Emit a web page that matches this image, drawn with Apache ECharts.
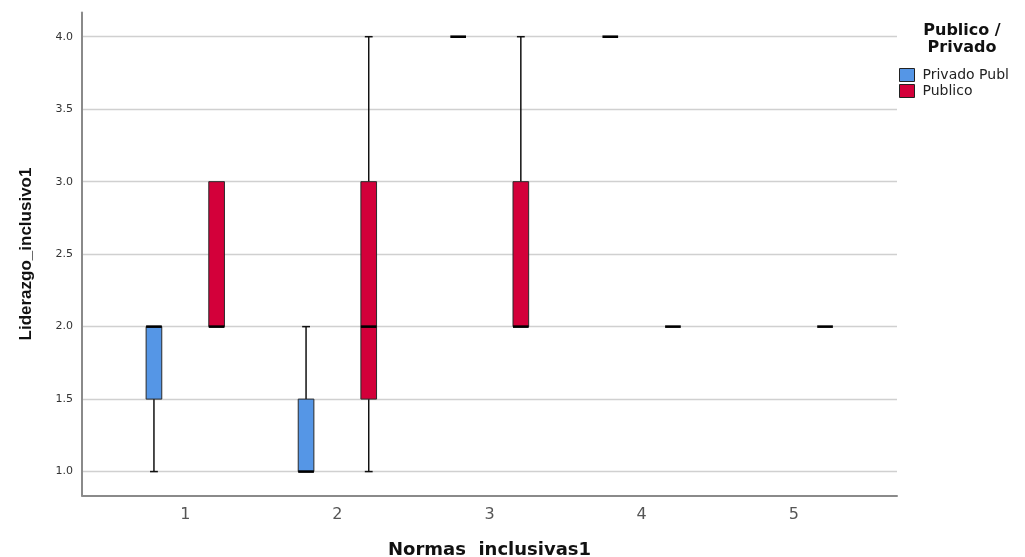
<!DOCTYPE html>
<html>
<head>
<meta charset="utf-8">
<script src="https://cdn.jsdelivr.net/npm/echarts@6/dist/echarts.min.js"></script>
<style>
html,body{margin:0;padding:0;background:#fff;}
#chart{width:1025px;height:557px;}
</style>
</head>
<body>
<div id="chart"></div>
<script>
// ---- data ----
const categories = ['1', '2', '3', '4', '5'];
const yTicks = [1.0, 1.5, 2.0, 2.5, 3.0, 3.5, 4.0];
const seriesNames = ['Privado Publ', 'Publico'];
// [min, Q1, median, Q3, max] per category (null = no data)
const privadoStats = [
  [1, 1.5, 2, 2, 2],
  [1, 1, 1, 1.5, 2],
  [4, 4, 4, 4, 4],
  [4, 4, 4, 4, 4],
  null
];
const publicoStats = [
  [2, 2, 2, 3, 3],
  [1, 1.5, 2, 3, 4],
  [2, 2, 2, 3, 4],
  [2, 2, 2, 2, 2],
  [2, 2, 2, 2, 2]
];

const FONT = '"Liberation Sans", Arial, sans-serif';
const WFONT = '"DejaVu Sans", "Liberation Sans", sans-serif';
const BOX_W = 0.103;
const OFFSET = 0.206;

function buildData(stats) {
  const out = [];
  stats.forEach(function (s, i) {
    if (s) out.push([i + 1].concat(s));
  });
  return out;
}

function makeRender(offset, color) {
  return function (params, api) {
    const xv = api.value(0) + offset;
    const mn = api.value(1), q1 = api.value(2), md = api.value(3), q3 = api.value(4), mx = api.value(5);
    const w = api.size([BOX_W, 0])[0];
    const capW = w * 0.5;
    const pMin = api.coord([xv, mn]);
    const pQ1 = api.coord([xv, q1]);
    const pMd = api.coord([xv, md]);
    const pQ3 = api.coord([xv, q3]);
    const pMax = api.coord([xv, mx]);
    const cx = pMd[0];
    const children = [];
    const wStyle = { stroke: '#111', lineWidth: 1.5 };
    if (mn < q1) {
      children.push({ type: 'line', shape: { x1: cx, y1: pMin[1], x2: cx, y2: pQ1[1] }, style: wStyle });
      children.push({ type: 'line', shape: { x1: cx - capW / 2, y1: pMin[1], x2: cx + capW / 2, y2: pMin[1] }, style: wStyle });
    }
    if (mx > q3) {
      children.push({ type: 'line', shape: { x1: cx, y1: pQ3[1], x2: cx, y2: pMax[1] }, style: wStyle });
      children.push({ type: 'line', shape: { x1: cx - capW / 2, y1: pMax[1], x2: cx + capW / 2, y2: pMax[1] }, style: wStyle });
    }
    if (q3 > q1) {
      children.push({
        type: 'rect',
        shape: { x: cx - w / 2, y: pQ3[1], width: w, height: pQ1[1] - pQ3[1] },
        style: { fill: color, stroke: '#2a2a2a', lineWidth: 1 }
      });
    }
    children.push({
      type: 'line',
      shape: { x1: cx - w / 2, y1: pMd[1], x2: cx + w / 2, y2: pMd[1] },
      style: { stroke: '#000', lineWidth: 2.6 }
    });
    return { type: 'group', children: children };
  };
}

const colors = ['#5596e6', '#d3003a'];

const chart = echarts.init(document.getElementById('chart'), null, { renderer: 'canvas' });
chart.setOption({
  animation: false,
  backgroundColor: '#fff',
  title: {
    text: 'Publico /\nPrivado',
    left: 962,
    top: 22,
    padding: 0,
    textAlign: 'center',
    textStyle: { fontFamily: WFONT, fontSize: 16, fontWeight: 'bold', color: '#111', lineHeight: 17 }
  },
  legend: {
    orient: 'vertical',
    left: 899,
    top: 68,
    padding: 0,
    itemWidth: 15,
    itemHeight: 13,
    itemGap: 2,
    icon: 'rect',
    itemStyle: { borderColor: '#222', borderWidth: 1 },
    textStyle: { fontFamily: WFONT, fontSize: 14, color: '#222', padding: [0, 0, 0, 3], lineHeight: 14 },
    data: seriesNames
  },
  grid: { left: 82, right: 128, top: 12.5, bottom: 61.5, containLabel: false, outerBoundsMode: 'none' },
  xAxis: {
    type: 'value',
    min: 0.321,
    max: 5.679,
    name: 'Normas  inclusivas1',
    nameLocation: 'middle',
    nameGap: 46,
    nameTextStyle: { fontFamily: WFONT, fontSize: 18, fontWeight: 'bold', color: '#111' },
    axisLine: { show: true, lineStyle: { color: '#8a8a8a', width: 2 } },
    axisTick: { show: false },
    splitLine: { show: false },
    axisLabel: {
      customValues: categories.map(function (c, i) { return i + 1; }),
      formatter: function (v) { return categories[Math.round(v) - 1]; },
      fontFamily: WFONT, fontSize: 16, color: '#555', margin: 11
    }
  },
  yAxis: {
    type: 'value',
    min: 0.835,
    max: 4.167,
    name: 'Liderazgo_inclusivo1',
    nameLocation: 'middle',
    nameGap: 47,
    nameTextStyle: { fontFamily: FONT, fontSize: 17, fontWeight: 'bold', color: '#111' },
    axisLine: { show: true, lineStyle: { color: '#8a8a8a', width: 2 } },
    axisTick: { show: false, customValues: yTicks },
    splitLine: { show: true, lineStyle: { color: '#d0d0d0', width: 1.3 } },
    axisLabel: {
      customValues: yTicks,
      formatter: function (v) { return v.toFixed(1); },
      fontFamily: WFONT, fontSize: 11, color: '#333', margin: 9
    }
  },
  series: [
    {
      name: seriesNames[0],
      type: 'custom',
      itemStyle: { color: colors[0] },
      renderItem: makeRender(-OFFSET, colors[0]),
      encode: { x: 0, y: [1, 2, 3, 4, 5] },
      data: buildData(privadoStats)
    },
    {
      name: seriesNames[1],
      type: 'custom',
      itemStyle: { color: colors[1] },
      renderItem: makeRender(OFFSET, colors[1]),
      encode: { x: 0, y: [1, 2, 3, 4, 5] },
      data: buildData(publicoStats)
    }
  ]
});
</script>
</body>
</html>
